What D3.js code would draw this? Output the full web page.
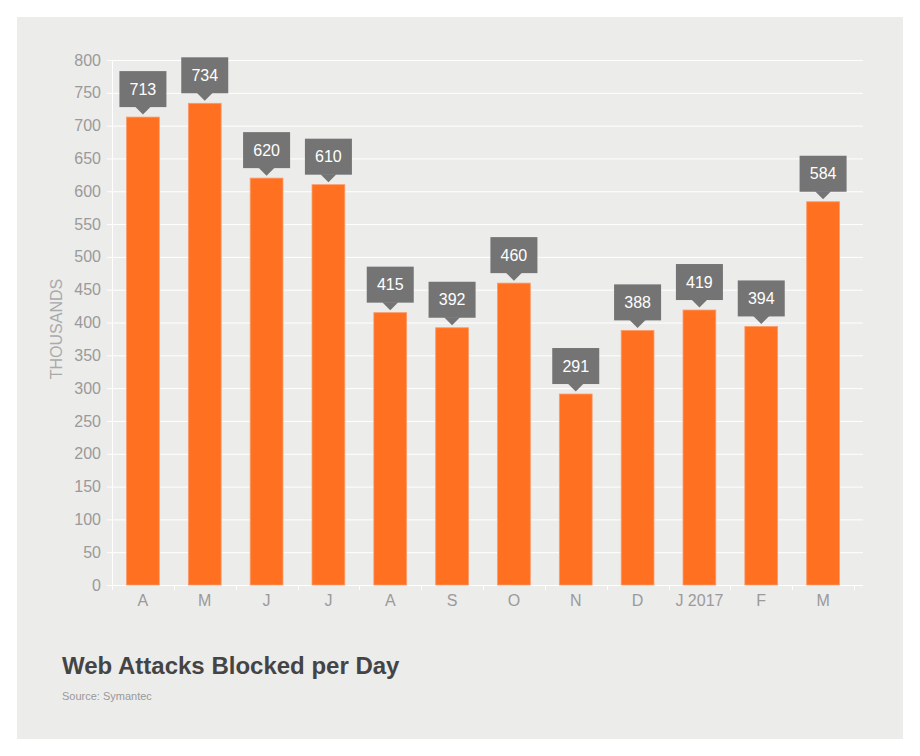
<!DOCTYPE html>
<html>
<head>
<meta charset="utf-8">
<script src="https://cdn.jsdelivr.net/npm/d3@7"></script>
<style>
    body { margin: 0; background: #fff; }
    svg text { font-family: "Liberation Sans", Arial, sans-serif; }
</style>
</head>
<body>
<div id="chart"></div>
<script>
// chart data
const months = ["A", "M", "J", "J", "A", "S", "O", "N", "D", "J 2017", "F", "M"];
const attacks = [713, 734, 620, 610, 415, 392, 460, 291, 388, 419, 394, 584];
const yTicks = [0, 50, 100, 150, 200, 250, 300, 350, 400, 450, 500, 550, 600, 650, 700, 750, 800];

const width = 920, height = 756;

let svg = d3.select("#chart").append("svg")
    .attr("width", width)
    .attr("height", height);

// grey panel
svg.append("rect")
    .attr("x", 17)
    .attr("y", 17)
    .attr("width", 886)
    .attr("height", 722)
    .attr("fill", "#ececeb");

// scales
let x = d3.scaleBand()
    .domain(d3.range(months.length))
    .range([112, 854])
    .paddingInner(0.47)
    .paddingOuter(0.235);

let y = d3.scaleLinear()
    .domain([0, 800])
    .range([585, 60]);

// gridlines
svg.append("g")
    .selectAll("line")
    .data(yTicks)
    .join("line")
    .attr("x1", 107)
    .attr("x2", 863)
    .attr("y1", d => y(d) + 0.5)
    .attr("y2", d => y(d) + 0.5)
    .attr("stroke", "#fff")
    .attr("stroke-width", 1);

// y axis line
svg.append("line")
    .attr("x1", 112.5).attr("x2", 112.5)
    .attr("y1", 60).attr("y2", 590)
    .attr("stroke", "#fff");

// y tick labels
svg.append("g")
    .selectAll("text")
    .data(yTicks)
    .join("text")
    .attr("x", 101)
    .attr("y", d => y(d))
    .attr("dy", "0.35em")
    .attr("text-anchor", "end")
    .attr("fill", "#9a9a9a")
    .style("font-size", "16px")
    .text(d => d);

// x ticks at band boundaries
let step = x.step();
svg.append("g")
    .selectAll("line")
    .data(d3.range(months.length + 1))
    .join("line")
    .attr("x1", i => Math.round(112 + i * step) + 0.5)
    .attr("x2", i => Math.round(112 + i * step) + 0.5)
    .attr("y1", 585)
    .attr("y2", 590)
    .attr("stroke", "#fff");

// x labels
svg.append("g")
    .selectAll("text")
    .data(months)
    .join("text")
    .attr("x", (d, i) => x(i) + x.bandwidth() / 2)
    .attr("y", 606)
    .attr("text-anchor", "middle")
    .attr("fill", "#9a9a9a")
    .style("font-size", "16px")
    .text(d => d);

// bars
svg.append("g")
    .selectAll("rect")
    .data(attacks)
    .join("rect")
    .attr("x", (d, i) => x(i))
    .attr("y", d => y(d))
    .attr("width", x.bandwidth())
    .attr("height", d => y(0) - y(d))
    .attr("fill", "#ff7020")
    .attr("stroke", "#fb9a6a")
    .attr("stroke-width", 0.8);

// value callouts
let callouts = svg.append("g")
    .selectAll("g")
    .data(attacks)
    .join("g")
    .attr("transform", (d, i) => "translate(" + (x(i) + x.bandwidth() / 2) + "," + y(d) + ")");

callouts.append("rect")
    .attr("x", -23.5)
    .attr("y", -46)
    .attr("width", 47)
    .attr("height", 36)
    .attr("fill", "#747474");

callouts.append("polygon")
    .attr("points", "-8,-10.5 8,-10.5 0,-2.5")
    .attr("fill", "#747474");

callouts.append("text")
    .attr("y", -28)
    .attr("dy", "0.35em")
    .attr("text-anchor", "middle")
    .attr("fill", "#fff")
    .style("font-size", "16px")
    .text(d => d);

// axis title
svg.append("text")
    .attr("transform", "translate(56,329) rotate(-90)")
    .attr("text-anchor", "middle")
    .attr("dy", "0.35em")
    .attr("fill", "#aaa")
    .style("font-size", "16px")
    .text("THOUSANDS");

// title and source
svg.append("text")
    .attr("x", 62)
    .attr("y", 674)
    .attr("fill", "#444")
    .style("font-size", "24px")
    .style("font-weight", "bold")
    .text("Web Attacks Blocked per Day");

svg.append("text")
    .attr("x", 62)
    .attr("y", 700)
    .attr("fill", "#999")
    .style("font-size", "11px")
    .text("Source: Symantec");
</script>
</body>
</html>
